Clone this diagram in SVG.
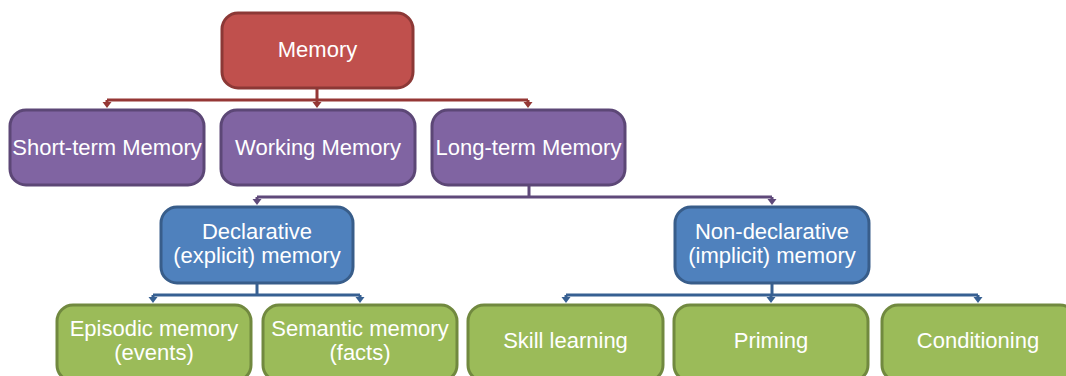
<svg xmlns="http://www.w3.org/2000/svg" width="1066" height="376" viewBox="0 0 1066 376">
  <defs>
    <!-- small downward arrowhead, tip at (0,0) -->
    <path id="tip" d="M-4.5,-6 L4.5,-6 L0,0 Z"/>
  </defs>
  <style>
    .box { stroke-width: 3; }
    .red { fill: #c0504d; stroke: #8c3836; }
    .purple { fill: #8064a2; stroke: #5c4776; }
    .blue { fill: #4f81bd; stroke: #385d8a; }
    .green { fill: #9bbb59; stroke: #71893f; }
    text { font-family: "Liberation Sans", Arial, sans-serif; font-size: 22px; fill: #ffffff; text-anchor: middle; }
    .ln { fill: none; stroke-width: 3; }
    .lr { stroke: #953735; }
    .lp { stroke: #5f497a; }
    .lb { stroke: #376092; }
    .ar { fill: #953735; }
    .ap { fill: #5f497a; }
    .ab { fill: #376092; }
  </style>

  <!-- connectors -->
  <g id="connectors">
    <!-- Memory to its three children -->
    <path class="ln lr" d="M317,88 V100 M107,100 H528 M107,100 V103 M317,100 V103 M528,100 V103"/>
    <use href="#tip" class="ar" x="107" y="108"/>
    <use href="#tip" class="ar" x="317" y="108"/>
    <use href="#tip" class="ar" x="528" y="108"/>
    <!-- Long-term to declarative / non-declarative -->
    <path class="ln lp" d="M529,185 V197 M257,197 H772 M257,197 V200 M772,197 V200"/>
    <use href="#tip" class="ap" x="257" y="205"/>
    <use href="#tip" class="ap" x="772" y="205"/>
    <!-- Declarative to its children -->
    <path class="ln lb" d="M257,283 V295 M153,295 H360 M153,295 V298 M360,295 V298"/>
    <use href="#tip" class="ab" x="153" y="303"/>
    <use href="#tip" class="ab" x="360" y="303"/>
    <!-- Non-declarative to its children -->
    <path class="ln lb" d="M772,283 V295 M566,295 H978 M566,295 V298 M771,295 V298 M978,295 V298"/>
    <use href="#tip" class="ab" x="566" y="303"/>
    <use href="#tip" class="ab" x="771" y="303"/>
    <use href="#tip" class="ab" x="978" y="303"/>
  </g>

  <g id="memory">
    <rect class="box red" x="222" y="13" width="191" height="75" rx="16"/>
    <text x="317.5" y="57">Memory</text>
  </g>

  <g id="short-term">
    <rect class="box purple" x="10" y="110" width="194" height="75" rx="16"/>
    <text x="107" y="155">Short-term Memory</text>
  </g>
  <g id="working">
    <rect class="box purple" x="221" y="110" width="194" height="75" rx="16"/>
    <text x="318" y="155">Working Memory</text>
  </g>
  <g id="long-term">
    <rect class="box purple" x="432" y="110" width="193" height="75" rx="16"/>
    <text x="528.5" y="155">Long-term Memory</text>
  </g>

  <g id="declarative">
    <rect class="box blue" x="161" y="207" width="192" height="76" rx="16"/>
    <text x="257" y="239">Declarative</text>
    <text x="257" y="263">(explicit) memory</text>
  </g>
  <g id="non-declarative">
    <rect class="box blue" x="675" y="207" width="194" height="76" rx="16"/>
    <text x="772" y="239">Non-declarative</text>
    <text x="772" y="263">(implicit) memory</text>
  </g>

  <g id="episodic">
    <rect class="box green" x="57" y="305" width="194" height="76" rx="16"/>
    <text x="154" y="336">Episodic memory</text>
    <text x="154" y="360">(events)</text>
  </g>
  <g id="semantic">
    <rect class="box green" x="263" y="305" width="194" height="76" rx="16"/>
    <text x="360" y="336">Semantic memory</text>
    <text x="360" y="360">(facts)</text>
  </g>
  <g id="skill">
    <rect class="box green" x="468" y="305" width="195" height="76" rx="16"/>
    <text x="565.5" y="348">Skill learning</text>
  </g>
  <g id="priming">
    <rect class="box green" x="674" y="305" width="194" height="76" rx="16"/>
    <text x="771" y="348">Priming</text>
  </g>
  <g id="conditioning">
    <rect class="box green" x="882" y="305" width="194" height="76" rx="16"/>
    <text x="978" y="348">Conditioning</text>
  </g>
</svg>
